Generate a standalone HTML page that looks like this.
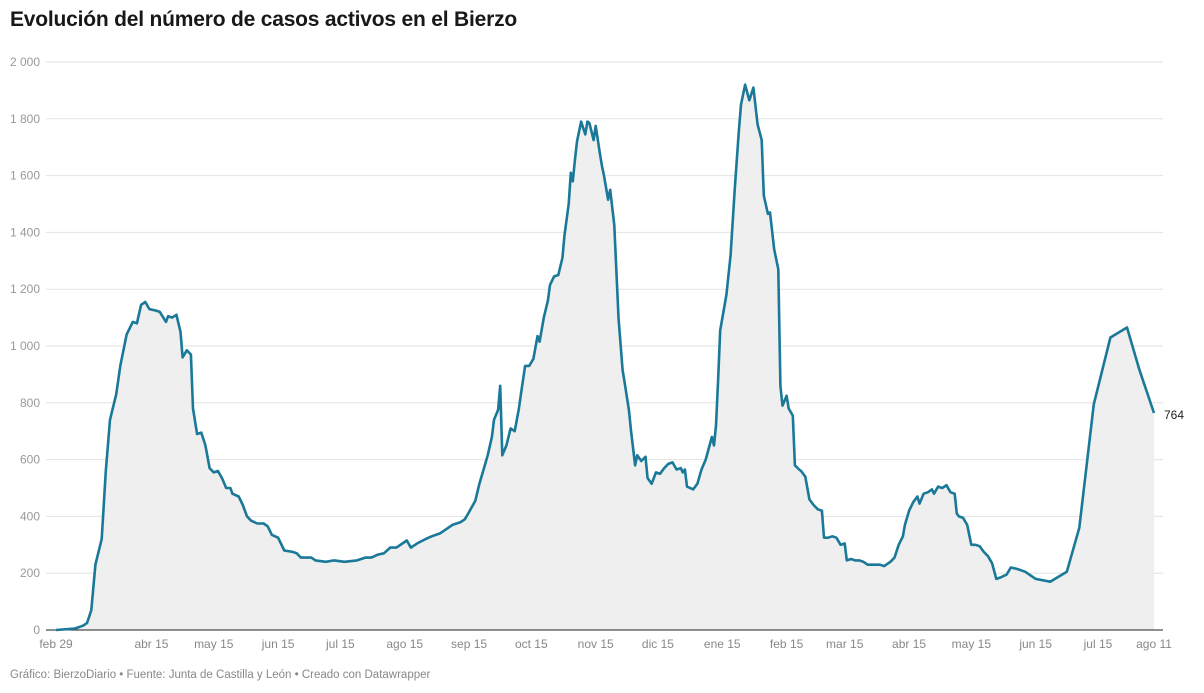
<!DOCTYPE html>
<html><head><meta charset="utf-8">
<style>
body{margin:0;background:#fff;font-family:"Liberation Sans",sans-serif;}
#wrap{position:relative;width:1204px;height:693px;overflow:hidden;}
h1{position:absolute;left:10px;top:8px;margin:0;font-size:21px;font-weight:bold;color:#181818;letter-spacing:-0.2px;}
#foot{position:absolute;left:10px;top:669px;font-size:11.5px;color:#888;}
</style></head>
<body>
<div id="wrap">
<h1>Evolución del número de casos activos en el Bierzo</h1>
<svg id="chart" width="1204" height="693" style="position:absolute;left:0;top:0"></svg>
<div id="foot">Gráfico: BierzoDiario • Fuente: Junta de Castilla y León • Creado con Datawrapper</div>
</div>
<script>
// days since 2020-02-29
const days=[0,9,13,15,17,19,22,24,26,29,31,34,37,39,41,43,45,48,50,53,54,56,58,60,61,63,65,66,68,70,72,74,76,78,80,82,84,85,88,90,92,94,97,100,102,104,107,110,114,116,118,123,125,130,134,139,145,149,152,155,158,161,164,169,171,174,178,181,185,188,191,195,197,199,202,204,206,208,210,211,213,214,215,217,219,221,223,224,226,228,230,232,233,235,237,238,240,242,244,245,247,248,249,250,251,253,255,256,257,259,260,262,263,264,266,267,269,271,273,274,276,277,279,280,282,284,285,287,289,291,293,295,297,299,301,302,303,304,307,309,311,313,316,317,318,319,320,323,325,327,329,330,332,334,336,338,340,341,343,344,346,348,349,350,352,353,355,356,358,359,361,363,365,367,369,370,372,374,376,378,380,381,383,385,387,389,391,394,397,399,402,404,406,408,409,411,413,415,416,418,420,422,423,425,427,429,431,433,434,435,437,439,441,443,445,447,449,451,453,455,458,460,463,467,472,479,487,493,500,508,516,522,529];
const cases=[0,5,15,25,70,230,320,560,740,830,930,1040,1085,1080,1145,1155,1130,1125,1120,1085,1105,1100,1110,1050,960,985,970,780,690,695,650,570,555,560,535,500,500,480,470,440,400,385,375,375,365,335,325,280,275,270,255,255,245,240,245,240,245,255,255,265,270,290,290,315,290,305,320,330,340,355,370,380,390,415,455,515,565,615,680,740,775,860,615,650,710,700,780,830,930,930,955,1035,1015,1100,1160,1215,1245,1250,1310,1390,1500,1610,1580,1655,1720,1790,1745,1790,1785,1725,1775,1680,1635,1600,1515,1550,1425,1100,915,870,775,705,580,615,595,610,535,515,555,550,570,585,590,565,570,555,565,505,495,515,565,600,680,650,720,880,1055,1180,1320,1550,1760,1850,1920,1865,1910,1780,1725,1530,1465,1470,1340,1270,860,790,825,780,755,580,565,560,540,460,440,425,420,325,325,330,325,300,305,245,250,245,245,240,230,230,230,225,240,255,300,330,370,420,450,470,445,480,485,495,480,505,500,510,485,480,410,400,395,370,300,300,295,275,260,235,180,185,195,220,215,205,180,170,205,360,795,1030,1065,915,764];
const yTicks=[0,200,400,600,800,1000,1200,1400,1600,1800,2000];
const yTickLabels=["0","200","400","600","800","1 000","1 200","1 400","1 600","1 800","2 000"];
const xTickDays=[0,46,76,107,137,168,199,229,260,290,321,352,380,411,441,472,502,529];
const xTickLabels=["feb 29","abr 15","may 15","jun 15","jul 15","ago 15","sep 15","oct 15","nov 15","dic 15","ene 15","feb 15","mar 15","abr 15","may 15","jun 15","jul 15","ago 11"];

const NS="http://www.w3.org/2000/svg";
const svg=document.getElementById('chart');
const x0=56,x1=1154,yB=630,yT=62;
const xs=d=>x0+(d-0)/529*(x1-x0);
const ys=v=>yB-v/2000*(yB-yT);
function mk(t,a){const e=document.createElementNS(NS,t);for(const k in a)e.setAttribute(k,a[k]);svg.appendChild(e);return e;}
yTicks.forEach((v,i)=>{
  if(v>0){const g=mk('line',{x1:46,x2:1163,y1:ys(v),y2:ys(v),stroke:'#e2e2e2','stroke-width':1});
  
  }
  const t=mk('text',{x:40,y:ys(v)+4,'text-anchor':'end','font-size':12,fill:'#999'});
  t.textContent=yTickLabels[i];
  
  
});
xTickDays.forEach((d,i)=>{
  const t=mk('text',{x:xs(d),y:648,'text-anchor':'middle','font-size':12,fill:'#888'});
  t.textContent=xTickLabels[i];
  
  
});
let pts=days.map((d,i)=>xs(d).toFixed(1)+','+ys(cases[i]).toFixed(1));
const area=mk('path',{d:'M'+xs(days[0])+','+yB+' L'+pts.join(' L')+' L'+xs(days[days.length-1])+','+yB+' Z',fill:'#efefef'});


const base=mk('line',{x1:46,x2:1163,y1:yB,y2:yB,stroke:'#222','stroke-width':1});


const line=mk('path',{d:'M'+pts.join(' L'),fill:'none',stroke:'#1a7898','stroke-width':2.6,'stroke-linejoin':'round'});


const li=cases.length-1;
const lab=mk('text',{x:xs(days[li])+10,y:ys(cases[li])+6,'font-size':12,fill:'#222'});
lab.textContent=String(cases[li]);


</script>
</body></html>
